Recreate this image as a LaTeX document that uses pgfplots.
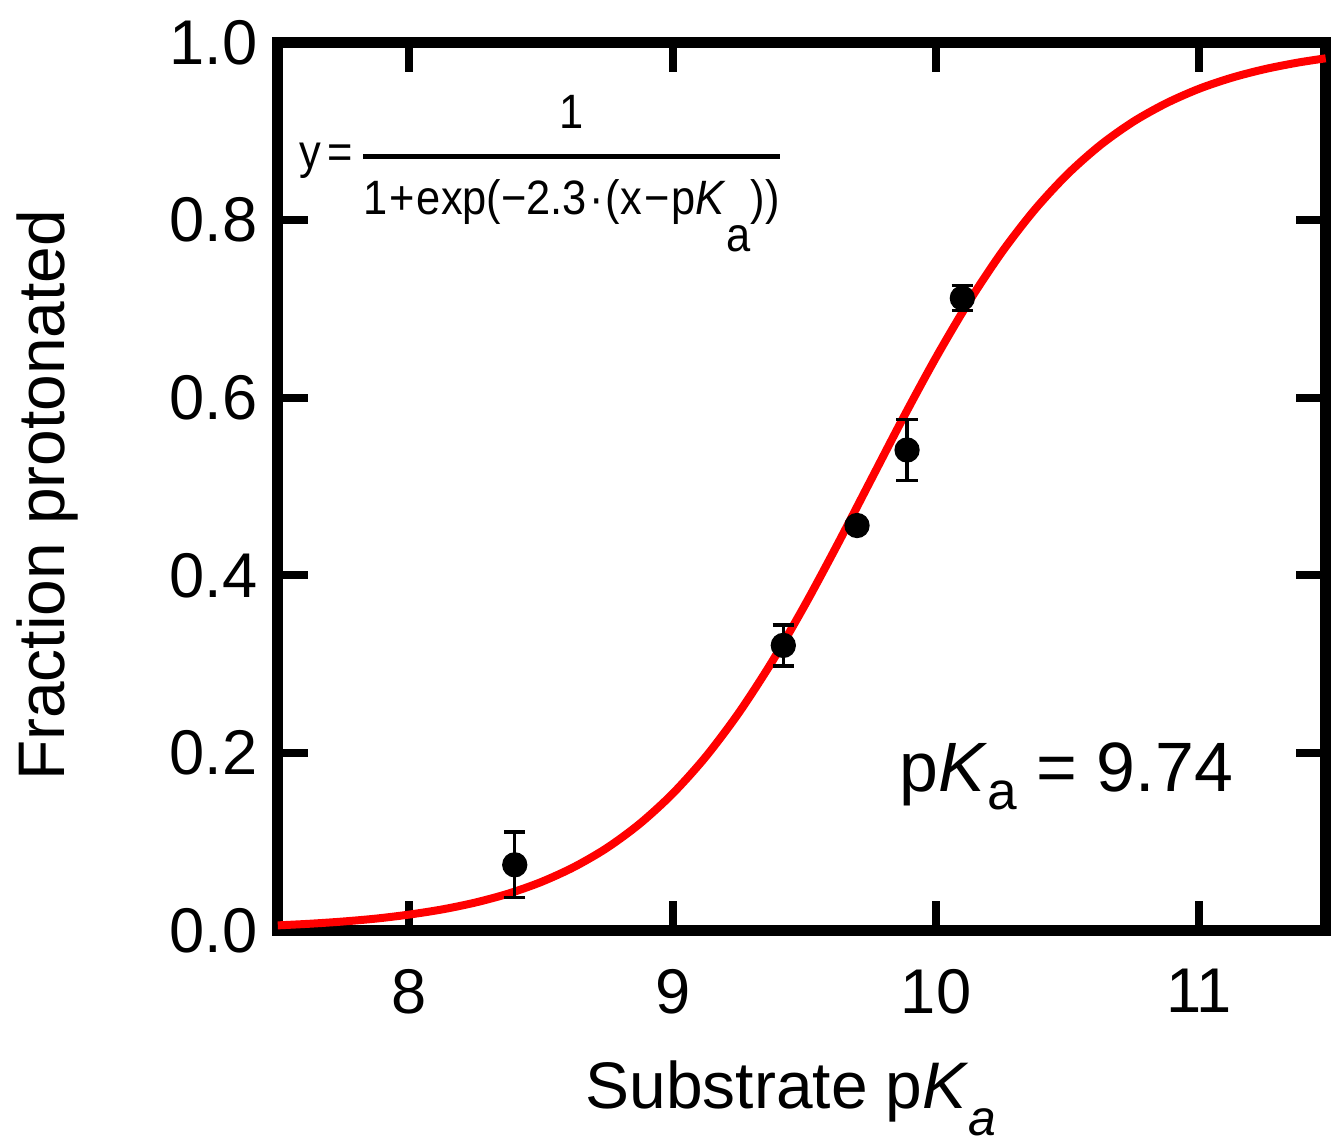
\documentclass[border=0pt]{standalone}
\usepackage{pgfplots}
\pgfplotsset{compat=1.18}
\usepackage{amsmath}
\usepackage{graphicx}
\usepackage{fontspec}
\setmainfont{Liberation Sans}

\begin{document}
\begin{tikzpicture}
\begin{axis}[
    scale only axis,
    width=315pt, height=267pt,
    xmin=7.5, xmax=11.48,
    ymin=0, ymax=1,
    xtick={8,9,10,11},
    ytick={0,0.2,0.4,0.6,0.8,1.0},
    yticklabel style={/pgf/number format/fixed, /pgf/number format/fixed zerofill,
        /pgf/number format/precision=1, inner sep=0pt, anchor=east, xshift=-6pt},
    xticklabel style={inner sep=0pt, anchor=north, yshift=-11.4pt},
    /pgf/number format/assume math mode=true,
    tick label style={font=\fontsize{19}{22}\selectfont},
    label style={font=\fontsize{19.8}{23}\selectfont},
    tick align=inside,
    major tick length=9pt,
    every tick/.style={black, line width=2.4pt},
    axis line style={line width=3.2pt, black},
    xlabel={Substrate p\textit{K}\raisebox{-8pt}{\fontsize{15}{16}\selectfont\textit{a}}},
    ylabel={Fraction protonated},
    xlabel style={at={(axis description cs:0.49,0)}, anchor=north, inner sep=0pt, yshift=-39pt},
    ylabel style={at={(axis description cs:-0.19,0.49)}, anchor=south, inner sep=0pt},
    clip=false,
]
% fitted curve, pKa = 9.74
\addplot[red, line width=2.4pt, smooth] coordinates {
    (7.5,0.0058) (7.625,0.0077) (7.75,0.0102) (7.875,0.0135) (8.0,0.0180)
    (8.125,0.0238) (8.25,0.0315) (8.375,0.0415) (8.5,0.0546) (8.625,0.0715)
    (8.75,0.0930) (8.875,0.1203) (9.0,0.1542) (9.125,0.1955) (9.25,0.2447)
    (9.375,0.3016) (9.5,0.3654) (9.625,0.4342) (9.75,0.5057) (9.875,0.5770)
    (10.0,0.6452) (10.125,0.7080) (10.25,0.7637) (10.375,0.8116) (10.5,0.8517)
    (10.625,0.8845) (10.75,0.9108) (10.875,0.9315) (11.0,0.9478) (11.125,0.9603)
    (11.25,0.9699) (11.375,0.9772) (11.48,0.9820)
};
% data
\addplot[black, only marks, mark=*, mark size=3.6pt,
    error bars/.cd, y dir=both, y explicit,
    error bar style={line width=1pt, black},
    error mark options={rotate=90, mark size=3.2pt, line width=1pt, black}]
    table[x=x, y=y, y error=e] {
x y e
8.40 0.074 0.037
9.42 0.321 0.023
9.70 0.456 0.004
9.89 0.541 0.034
10.10 0.712 0.014
};
\node[anchor=base west, inner sep=0pt, font=\fontsize{21}{24}\selectfont]
    at (axis cs:9.86,0.156) {p\textit{K}\raisebox{-5.4pt}{\fontsize{16}{17}\selectfont a} = 9.74};
\node[anchor=base west, inner sep=0pt, font=\fontsize{14.5}{17}\selectfont]
    at (axis cs:7.58,0.858) {\scalebox{0.9}[1]{y\kern0.15em=\kern0.15em$\genfrac{}{}{1.3pt}{0}{\text{1}\rule[-4pt]{0pt}{1pt}}{\rule{0pt}{13pt}\text{1\kern0.05em+\kern0.05em exp(−2.3\kern0.05em·\kern0.05em(x\kern0.05em−\kern0.05em p\textit{K}\raisebox{-11pt}{a}))}}$}};
\end{axis}
\path ([xshift=-5pt,yshift=6pt]current bounding box.north west);
\end{tikzpicture}
\end{document}
